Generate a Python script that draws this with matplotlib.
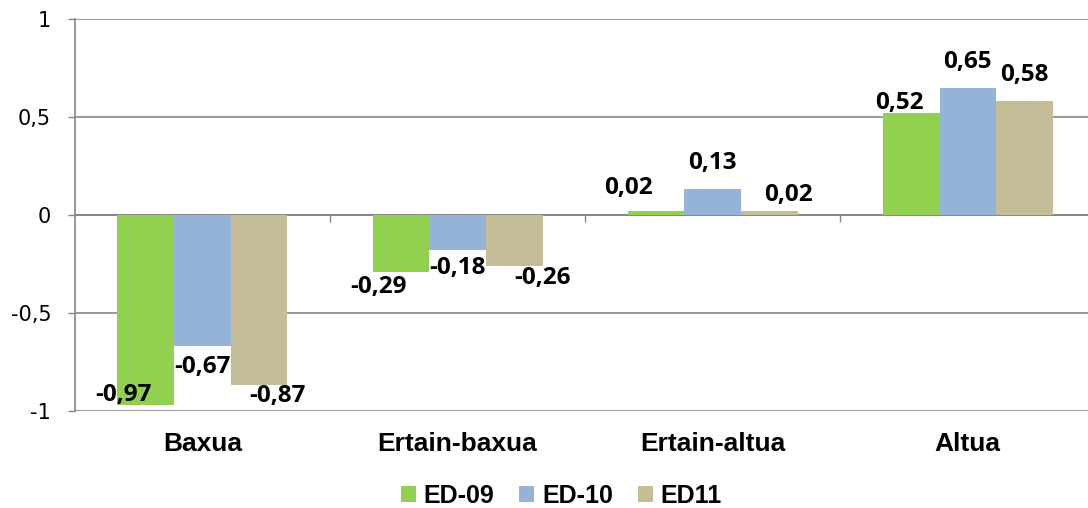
import matplotlib
matplotlib.use("Agg")
import matplotlib.pyplot as plt
from matplotlib.patches import Patch
import numpy as np

categories = ["Baxua", "Ertain-baxua", "Ertain-altua", "Altua"]
series_names = ["ED-09", "ED-10", "ED11"]
ed09 = [-0.97, -0.29, 0.02, 0.52]
ed10 = [-0.67, -0.18, 0.13, 0.65]
ed11 = [-0.87, -0.26, 0.02, 0.58]
y_ticks = [-1, -0.5, 0, 0.5, 1]
y_tick_labels = ["-1", "-0,5", "0", "0,5", "1"]

colors = ["#92D050", "#95B3D7", "#C4BD97"]
# label nudges in pixels (dx, dy) - the labels were dragged around in the original
label_offsets = [
    [(-22, 10), (-22, -15), (-28, 23), (-12, 10)],
    [(0, -21), (0, -18), (0, 26), (0, 26)],
    [(18, -11), (28, -12), (19, 16), (0, 26)],
]

fig = plt.figure(figsize=(10.88, 5.08), dpi=100)
ax = fig.add_axes([0.0688, 0.191, 0.938, 0.7717])

grid_col = "#868686"
bar_w = 0.222
x = np.arange(len(categories))
for i, vals in enumerate([ed09, ed10, ed11]):
    pos = x + (i - 1) * bar_w
    ax.bar(pos, vals, width=bar_w, color=colors[i], zorder=3)
    for j, v in enumerate(vals):
        dx, dy = label_offsets[i][j]
        ax.annotate(f"{v:.2f}".replace(".", ","), (pos[j], v),
                    xytext=(dx, dy), textcoords="offset pixels",
                    ha="center", va="center", fontsize=17.5,
                    fontfamily="Open Sans", fontweight="bold", zorder=5)

ax.set_xlim(-0.5, len(categories) - 0.5)
ax.set_ylim(-1, 1)
ax.set_yticks(y_ticks)
ax.set_yticklabels(y_tick_labels, fontsize=15, fontfamily="DejaVu Sans")
ax.tick_params(axis="y", length=5, width=1, color=grid_col, pad=12)
ax.yaxis.grid(True, color=grid_col, linewidth=1.2, zorder=0)

# category axis sits on zero, ticks on group boundaries
ax.spines["bottom"].set_position(("data", 0))
ax.spines["bottom"].set_color(grid_col)
ax.spines["bottom"].set_linewidth(1.2)
ax.set_xticks(np.arange(0.5, len(categories) - 0.5))
ax.set_xticklabels([])
ax.tick_params(axis="x", length=5, width=1, color=grid_col, direction="out")
for s in ["top", "right"]:
    ax.spines[s].set_visible(False)
ax.spines["left"].set_color(grid_col)
ax.spines["left"].set_linewidth(1.2)
ax.set_axisbelow(True)

for j, c in enumerate(categories):
    ax.text(j, -0.084, c, transform=ax.get_xaxis_transform(), ha="center",
            va="center", fontsize=19, fontfamily="Liberation Sans",
            fontweight="bold")

handles = [Patch(facecolor=colors[i], label=series_names[i]) for i in range(3)]
fig.legend(handles=handles, loc="center", bbox_to_anchor=(0.516, 0.024), ncol=3,
           frameon=False, handlelength=0.6, handleheight=0.6, handletextpad=0.3,
           columnspacing=1.0,
           prop={"family": "Liberation Sans", "weight": "bold", "size": 18})

fig.savefig("out.png", dpi=100)
